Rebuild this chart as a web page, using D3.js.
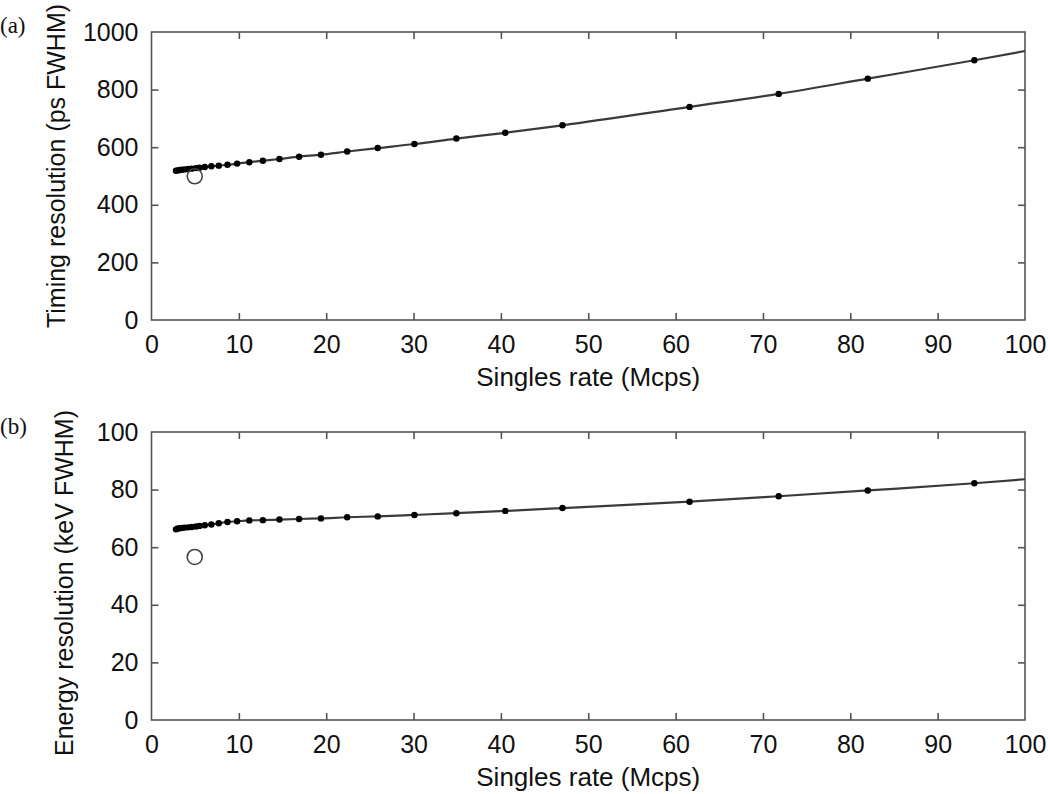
<!DOCTYPE html>
<html>
<head>
<meta charset="utf-8">
<script src="https://cdn.jsdelivr.net/npm/d3@7"></script>
<style>
  body { margin: 0; background: #fff; }
  svg { display: block; }
  text { font-family: "Liberation Sans", Arial, Helvetica, sans-serif; fill: #111; }
</style>
</head>
<body>
<svg id="chart" width="1050" height="794"></svg>
<script>
// ---- data ----
const rateMcps = [2.8, 3.0, 3.25, 3.5, 3.8, 4.2, 4.6, 5.1, 5.5, 6.1, 6.85, 7.7, 8.7, 9.8, 11.2, 12.75, 14.65, 16.9, 19.4, 22.4, 25.9, 30.1, 34.9, 40.5, 47.05, 61.6, 71.8, 82.0, 94.2];
const timingPs = [518, 519.5, 521, 522, 523, 524.5, 525.5, 527.5, 529, 531, 534, 536, 539, 543, 548, 553, 559, 567, 574, 585, 597, 611, 630, 650, 676, 740, 785, 838, 902];
const energyKeV = [66.2, 66.5, 66.6, 66.7, 66.8, 66.9, 67.0, 67.2, 67.4, 67.6, 67.9, 68.3, 68.75, 69.0, 69.3, 69.4, 69.6, 69.8, 70.0, 70.4, 70.7, 71.2, 71.8, 72.6, 73.6, 75.8, 77.7, 79.7, 82.2];
// fitted curve continues to the right edge
const curveEndRate = 100;
const curveEndTiming = 934;
const curveEndEnergy = 83.6;
// measured (open circle) reference points
const measuredRate = [4.95];
const measuredTiming = [499];
const measuredEnergy = [56.6];

const xTicks = [0, 10, 20, 30, 40, 50, 60, 70, 80, 90, 100];
const timingTicks = [0, 200, 400, 600, 800, 1000];
const energyTicks = [0, 20, 40, 60, 80, 100];

const panels = [
  { tag: "(a)", yLabel: "Timing resolution (ps FWHM)", yMax: 1000, yTicks: timingTicks,
    vals: timingPs, end: curveEndTiming, meas: measuredTiming, top: 32, bottom: 320,
    yTitleX: 65, yTitleC: 166, tagY: 33 },
  { tag: "(b)", yLabel: "Energy resolution (keV FWHM)", yMax: 100, yTicks: energyTicks,
    vals: energyKeV, end: curveEndEnergy, meas: measuredEnergy, top: 432, bottom: 720,
    yTitleX: 73, yTitleC: 583, tagY: 434 }
];

const svg = d3.select("#chart");
const left = 151.5, right = 1025;
const frameColor = "#555";
const tickLen = 7;
const tickFont = 25, titleFont = 26;

panels.forEach(p => {
  const x = d3.scaleLinear().domain([0, 100]).range([left, right]);
  const y = d3.scaleLinear().domain([0, p.yMax]).range([p.bottom, p.top]);
  const g = svg.append("g");

  // frame
  g.append("rect").attr("x", left).attr("y", p.top)
    .attr("width", right - left).attr("height", p.bottom - p.top)
    .attr("fill", "none").attr("stroke", frameColor).attr("stroke-width", 1.6);

  // axes with inward ticks
  const axB = g.append("g").attr("transform", `translate(0,${p.bottom})`)
    .call(d3.axisBottom(x).tickValues(xTicks).tickSize(-tickLen).tickPadding(15).tickFormat(d3.format("d")));
  const axT = g.append("g").attr("transform", `translate(0,${p.top})`)
    .call(d3.axisTop(x).tickValues(xTicks).tickSize(-tickLen).tickFormat(""));
  const axL = g.append("g").attr("transform", `translate(${left},0)`)
    .call(d3.axisLeft(y).tickValues(p.yTicks).tickSize(-tickLen).tickPadding(13).tickFormat(d3.format("d")));
  const axR = g.append("g").attr("transform", `translate(${right},0)`)
    .call(d3.axisRight(y).tickValues(p.yTicks).tickSize(-tickLen).tickFormat(""));
  [axB, axT, axL, axR].forEach(a => {
    a.select(".domain").remove();
    a.selectAll(".tick line").attr("stroke", frameColor).attr("stroke-width", 1.6);
    a.selectAll(".tick text").attr("font-size", tickFont).attr("fill", "#111")
      .style("font-family", '"Liberation Sans", Arial, Helvetica, sans-serif');
  });
  // the frame already draws the corner positions
  [axB, axT].forEach(a => a.selectAll(".tick line").filter(d => d === 0 || d === 100).remove());
  [axL, axR].forEach(a => a.selectAll(".tick line").filter(d => d === 0 || d === p.yMax).remove());

  // curve
  const pts = rateMcps.map((r, i) => [r, p.vals[i]]).concat([[curveEndRate, p.end]]);
  const line = d3.line().x(d => x(d[0])).y(d => y(d[1])).curve(d3.curveMonotoneX);
  g.append("path").datum(pts).attr("d", line)
    .attr("fill", "none").attr("stroke", "#3a3a3a").attr("stroke-width", 2.2);

  // data markers
  g.selectAll("circle.pt").data(rateMcps.map((r, i) => [r, p.vals[i]])).enter()
    .append("circle").attr("class", "pt")
    .attr("cx", d => x(d[0])).attr("cy", d => y(d[1])).attr("r", 3.2)
    .attr("fill", "#000");

  // measured open circle
  g.selectAll("circle.meas").data(measuredRate.map((r, i) => [r, p.meas[i]])).enter()
    .append("circle").attr("class", "meas")
    .attr("cx", d => x(d[0])).attr("cy", d => y(d[1])).attr("r", 7.5)
    .attr("fill", "none").attr("stroke", "#444").attr("stroke-width", 1.6);

  // labels
  g.append("text").attr("x", (left + right) / 2).attr("y", p.bottom + 65.5)
    .attr("text-anchor", "middle").attr("font-size", titleFont).text("Singles rate (Mcps)");
  g.append("text")
    .attr("transform", `translate(${p.yTitleX},${p.yTitleC}) rotate(-90)`)
    .attr("text-anchor", "middle").attr("font-size", tickFont).text(p.yLabel);
  g.append("text").attr("x", 0).attr("y", p.tagY)
    .attr("font-size", 23).style("font-family", '"Liberation Serif", "Times New Roman", serif')
    .text(p.tag);
});
</script>
</body>
</html>
